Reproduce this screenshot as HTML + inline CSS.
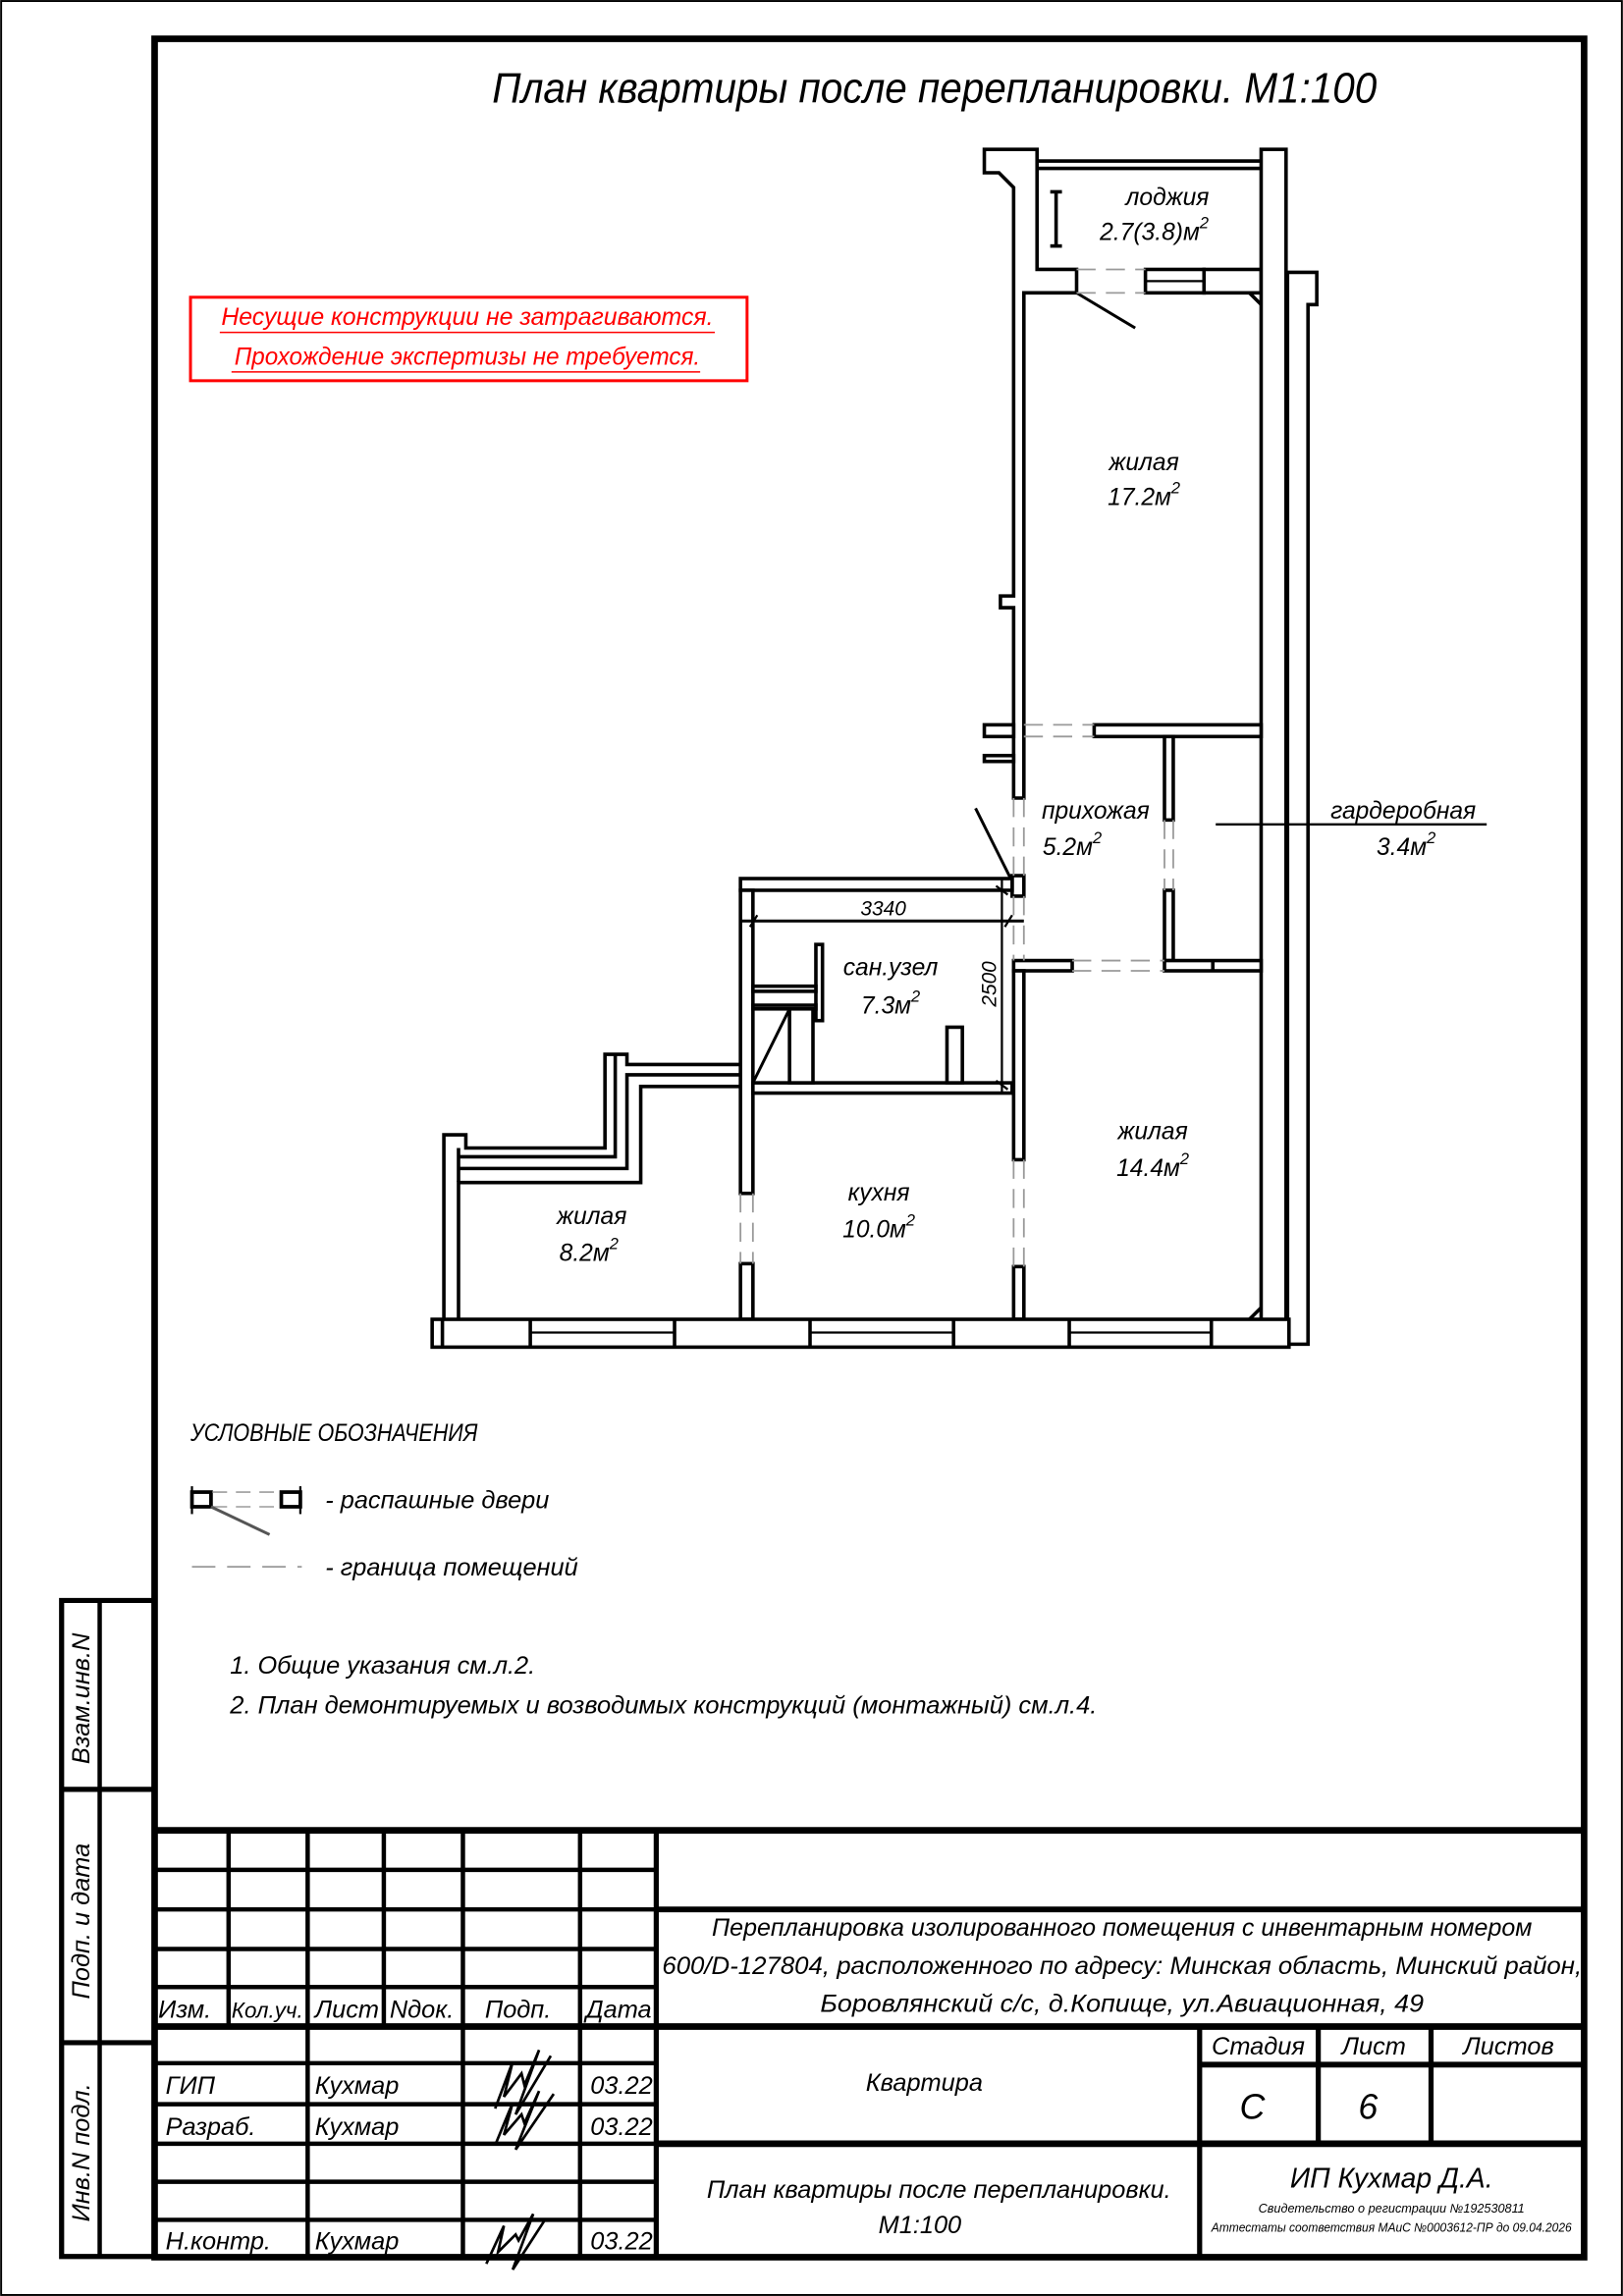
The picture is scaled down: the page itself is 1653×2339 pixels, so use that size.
<!DOCTYPE html>
<html><head><meta charset="utf-8"><style>
html,body{margin:0;padding:0;background:#fff}
svg{display:block}
text{font-family:"Liberation Sans Narrow","Liberation Sans",sans-serif;font-style:italic;fill:#000}
</style></head><body>
<svg width="1653" height="2339" viewBox="0 0 1108 1568" xmlns="http://www.w3.org/2000/svg">
<rect x="0.7" y="0.7" width="1106.6" height="1566.6" fill="none" stroke="#000" stroke-width="1.3"/>
<rect x="105.5" y="26.5" width="976" height="1515" fill="none" stroke="#000" stroke-width="4.5"/>

<!-- title -->
<text x="638" y="70" font-size="29" text-anchor="middle" textLength="604" lengthAdjust="spacingAndGlyphs">План квартиры после перепланировки. М1:100</text>

<!-- red box -->
<rect x="130" y="203" width="380" height="57" fill="none" stroke="#f00" stroke-width="2"/>
<text x="319" y="222" font-size="17" text-anchor="middle" style="fill:#f00" textLength="336" lengthAdjust="spacingAndGlyphs">Несущие конструкции не затрагиваются.</text>
<line x1="150" y1="227" x2="488" y2="227" stroke="#f00" stroke-width="1"/>
<text x="319" y="249" font-size="17" text-anchor="middle" style="fill:#f00" textLength="318" lengthAdjust="spacingAndGlyphs">Прохождение экспертизы не требуется.</text>
<line x1="158" y1="254" x2="478" y2="254" stroke="#f00" stroke-width="1"/>

<!-- PLAN -->
<g fill="#fff" stroke="#000" stroke-width="2.4" stroke-linejoin="miter">
<!-- left loggia pillar & living left wall -->
<polygon points="672,102 708,102 708,184 735,184 735,200 699,200 699,545 692,545 692,415 683,415 683,407 692,407 692,128 682,118 672,118"/>
<rect x="672" y="495" width="20" height="8"/>
<rect x="672" y="516" width="20" height="4"/>
<!-- loggia bottom wall right -->
<rect x="782" y="184" width="40" height="16"/>
<line x1="782" y1="192" x2="822" y2="192" stroke-width="1.5"/>
<rect x="822" y="184" width="39" height="16"/>
<!-- loggia top window -->
<line x1="708" y1="110" x2="861" y2="110"/>
<line x1="708" y1="115" x2="861" y2="115"/>
<!-- right walls -->
<rect x="861" y="102" width="17" height="816"/>
<polygon points="879,186 899,186 899,208 893,208 893,918 879,918"/>
<polyline points="853,200 861,208" fill="none"/>
<!-- living/hall wall -->
<rect x="747" y="495" width="114" height="8"/>
<!-- wardrobe wall -->
<rect x="795" y="503" width="6" height="57"/>
<rect x="795" y="608" width="6" height="48"/>
<!-- hall bottom walls -->
<rect x="692" y="656" width="40" height="7"/>
<rect x="795" y="656" width="66" height="7"/>
<line x1="828" y1="656" x2="828" y2="663"/>
<!-- kitchen right wall -->
<rect x="692" y="663" width="7" height="129"/>
<rect x="692" y="865" width="7" height="36"/>
<!-- door jamb -->
<rect x="691" y="598" width="8" height="14"/>
<!-- sanuzel top -->
<rect x="505.5" y="600" width="185.5" height="8"/>
<!-- kitchen left wall -->
<rect x="505.5" y="608" width="8.5" height="207"/>
<rect x="505.5" y="863" width="8.5" height="38"/>
<!-- sanuzel bottom -->
<rect x="514" y="739.5" width="177" height="7"/>
<!-- fixtures -->
<rect x="557" y="645" width="4.5" height="52"/>
<rect x="514" y="673.5" width="43" height="3.5"/>
<rect x="514" y="686.5" width="43" height="2.5"/>
<rect x="539" y="689" width="16" height="50.5"/>
<rect x="646.5" y="701.5" width="10.5" height="38"/>
<!-- bottom wall -->
<rect x="295" y="901" width="585" height="19"/>
</g>
<g fill="none" stroke="#000" stroke-width="2.4">
<!-- stepped walls -->
<polyline points="505.5,727 428,727 428,720 413,720 413,784 318,784 318,775 303,775 303,901"/>
<polyline points="505.5,734 428,734 428,798 313,798"/>
<polyline points="420,720 420,790 313,790"/>
<polyline points="505.5,742 437.4,742 437.4,807.6 313,807.6 313,901"/>
<line x1="313" y1="784" x2="313" y2="807"/>
<!-- window divisions -->
<line x1="302" y1="901" x2="302" y2="920"/>
<line x1="362" y1="901" x2="362" y2="920"/>
<line x1="460.5" y1="901" x2="460.5" y2="920"/>
<line x1="553" y1="901" x2="553" y2="920"/>
<line x1="651" y1="901" x2="651" y2="920"/>
<line x1="730" y1="901" x2="730" y2="920"/>
<line x1="827" y1="901" x2="827" y2="920"/>
<line x1="362" y1="910" x2="460.5" y2="910" stroke-width="1.5"/>
<line x1="553" y1="910" x2="651" y2="910" stroke-width="1.5"/>
<line x1="730" y1="910" x2="827" y2="910" stroke-width="1.5"/>
<polyline points="861,893 853,901"/>
<!-- diagonal in sanuzel -->
<line x1="539" y1="689" x2="514" y2="739.5" stroke-width="2"/>
<!-- door leaves -->
<line x1="735" y1="200" x2="775" y2="224" stroke-width="2"/>
<line x1="666" y1="552" x2="690" y2="600" stroke-width="2"/>
<!-- loggia I -->
<line x1="721" y1="131" x2="721" y2="168"/>
<line x1="717" y1="131" x2="725" y2="131"/>
<line x1="717" y1="168" x2="725" y2="168"/>
<!-- dimension lines -->
<line x1="505" y1="629" x2="699" y2="629" stroke-width="2"/>
<line x1="512" y1="633" x2="517" y2="625" stroke-width="1.5"/>
<line x1="686" y1="633" x2="691" y2="625" stroke-width="1.5"/>
<line x1="684" y1="600" x2="684" y2="746" stroke-width="1.5"/>
<line x1="680" y1="605" x2="688" y2="611" stroke-width="1.5"/>
<line x1="680" y1="738" x2="688" y2="744" stroke-width="1.5"/>
<!-- wardrobe pointer -->
<line x1="830" y1="563" x2="1015" y2="563" stroke-width="1.6"/>
</g>
<!-- dashed boundaries -->
<g stroke="#9a9a9a" stroke-width="1.2" stroke-dasharray="13 7" fill="none">
<line x1="735" y1="184" x2="782" y2="184"/><line x1="735" y1="200" x2="782" y2="200"/>
<line x1="699" y1="495" x2="747" y2="495"/><line x1="699" y1="503" x2="747" y2="503"/>
<line x1="692" y1="545" x2="692" y2="598"/><line x1="699" y1="545" x2="699" y2="598"/>
<line x1="692" y1="612" x2="692" y2="656"/><line x1="699" y1="612" x2="699" y2="656"/>
<line x1="795" y1="560" x2="795" y2="608"/><line x1="801" y1="560" x2="801" y2="608"/>
<line x1="732" y1="656" x2="795" y2="656"/><line x1="732" y1="663" x2="795" y2="663"/>
<line x1="692" y1="792" x2="692" y2="865"/><line x1="699" y1="792" x2="699" y2="865"/>
<line x1="505.5" y1="815" x2="505.5" y2="863"/><line x1="514" y1="815" x2="514" y2="863"/>
</g>

<!-- room labels -->
<g font-size="16.5" text-anchor="middle">
<text x="797" y="140">лоджия</text>
<text x="788" y="164">2.7(3.8)м<tspan font-size="11" dy="-8">2</tspan></text>
<text x="781" y="321">жилая</text>
<text x="781" y="345">17.2м<tspan font-size="11" dy="-8">2</tspan></text>
<text x="748" y="559">прихожая</text>
<text x="732" y="584">5.2м<tspan font-size="11" dy="-8">2</tspan></text>
<text x="958" y="559">гардеробная</text>
<text x="960" y="584">3.4м<tspan font-size="11" dy="-8">2</tspan></text>
<text x="608" y="666">сан.узел</text>
<text x="608" y="692">7.3м<tspan font-size="11" dy="-8">2</tspan></text>
<text x="600" y="820">кухня</text>
<text x="600" y="845">10.0м<tspan font-size="11" dy="-8">2</tspan></text>
<text x="787" y="778">жилая</text>
<text x="787" y="803">14.4м<tspan font-size="11" dy="-8">2</tspan></text>
<text x="404" y="836">жилая</text>
<text x="402" y="861">8.2м<tspan font-size="11" dy="-8">2</tspan></text>
<text x="603" y="625" font-size="14">3340</text>
<text transform="translate(680,672) rotate(-90)" font-size="14">2500</text>
</g>

<!-- legend -->
<text x="130" y="984" font-size="17" textLength="196" lengthAdjust="spacingAndGlyphs">УСЛОВНЫЕ ОБОЗНАЧЕНИЯ</text>
<g stroke="#000" fill="none">
<rect x="131" y="1019" width="13" height="10" stroke-width="2.5"/>
<rect x="192" y="1019" width="13" height="10" stroke-width="2.5"/>
<line x1="145" y1="1019" x2="192" y2="1019" stroke="#aaa" stroke-dasharray="10 6" stroke-width="1.2"/>
<line x1="145" y1="1029" x2="192" y2="1029" stroke="#aaa" stroke-dasharray="10 6" stroke-width="1.2"/>
<line x1="144" y1="1029" x2="184" y2="1048" stroke="#555" stroke-width="2"/>
<line x1="131" y1="1015" x2="131" y2="1034" stroke-width="1.5"/>
<line x1="205" y1="1015" x2="205" y2="1034" stroke-width="1.5"/>
<line x1="131" y1="1070" x2="206" y2="1070" stroke="#999" stroke-dasharray="16 8" stroke-width="1.2"/>
</g>
<text x="222" y="1030" font-size="17">- распашные двери</text>
<text x="222" y="1076" font-size="17">- граница помещений</text>

<!-- notes -->
<text x="157" y="1143" font-size="17">1. Общие указания см.л.2.</text>
<text x="157" y="1170" font-size="17" textLength="592" lengthAdjust="spacingAndGlyphs">2. План демонтируемых и возводимых конструкций (монтажный) см.л.4.</text>

<!-- left stamps -->
<g stroke="#000" fill="none">
<polyline points="104,1093 42,1093 42,1541 104,1541" stroke-width="3.5"/>
<line x1="68" y1="1093" x2="68" y2="1541" stroke-width="3"/>
<line x1="42" y1="1222" x2="104" y2="1222" stroke-width="3.5"/>
<line x1="42" y1="1395" x2="104" y2="1395" stroke-width="3.5"/>
</g>
<g font-size="17" text-anchor="middle">
<text transform="translate(61,1160) rotate(-90)">Взам.инв.N</text>
<text transform="translate(61,1312) rotate(-90)">Подп. и дата</text>
<text transform="translate(61,1470) rotate(-90)">Инв.N подл.</text>
</g>

<!-- title block -->
<g stroke="#000" fill="none">
<line x1="104" y1="1250" x2="1083" y2="1250" stroke-width="4.5"/>
<g stroke-width="3">
<line x1="104" y1="1277" x2="448" y2="1277"/>
<line x1="104" y1="1304" x2="448" y2="1304"/>
<line x1="104" y1="1331" x2="448" y2="1331"/>
<line x1="104" y1="1357" x2="448" y2="1357"/>
<line x1="104" y1="1409" x2="448" y2="1409"/>
<line x1="104" y1="1437" x2="448" y2="1437"/>
<line x1="104" y1="1464" x2="448" y2="1464"/>
<line x1="104" y1="1490" x2="448" y2="1490"/>
<line x1="104" y1="1516" x2="448" y2="1516"/>
<line x1="156" y1="1250" x2="156" y2="1385"/>
<line x1="262" y1="1250" x2="262" y2="1385"/>
<line x1="210" y1="1250" x2="210" y2="1541"/>
<line x1="316" y1="1250" x2="316" y2="1541"/>
<line x1="396" y1="1250" x2="396" y2="1541"/>
</g>
<line x1="104" y1="1384" x2="1083" y2="1384" stroke-width="4.5"/>
<line x1="448" y1="1250" x2="448" y2="1541" stroke-width="3.5"/>
<line x1="448" y1="1304" x2="1083" y2="1304" stroke-width="4"/>
<line x1="448" y1="1464" x2="1083" y2="1464" stroke-width="4.5"/>
<line x1="819" y1="1384" x2="819" y2="1541" stroke-width="3.5"/>
<line x1="900" y1="1384" x2="900" y2="1464" stroke-width="3.5"/>
<line x1="977" y1="1384" x2="977" y2="1464" stroke-width="3.5"/>
<line x1="819" y1="1410" x2="1083" y2="1410" stroke-width="4"/>
<!-- signatures -->
<g stroke-width="1.8">
<path d="M338,1440 L350,1408 L344,1432 L356,1416 L358,1424 L368,1400 L352,1444 L376,1404"/>
<path d="M338,1465 L350,1436 L344,1458 L356,1444 L358,1450 L368,1428 L352,1468 L378,1430"/>
<path d="M332,1546 L344,1520 L340,1538 L352,1526 L354,1530 L364,1512 L350,1550 L372,1516"/>
</g>
</g>
<g font-size="17">
<text x="108" y="1378">Изм.</text>
<text x="158" y="1378" font-size="15">Кол.уч.</text>
<text x="215" y="1378">Лист</text>
<text x="266" y="1378">Nдок.</text>
<text x="331" y="1378">Подп.</text>
<text x="400" y="1378">Дата</text>
<text x="113" y="1430">ГИП</text>
<text x="215" y="1430">Кухмар</text>
<text x="403" y="1430">03.22</text>
<text x="113" y="1458">Разраб.</text>
<text x="215" y="1458">Кухмар</text>
<text x="403" y="1458">03.22</text>
<text x="113" y="1536">Н.контр.</text>
<text x="215" y="1536">Кухмар</text>
<text x="403" y="1536">03.22</text>
</g>
<g text-anchor="middle" font-size="17">
<text x="766" y="1322" textLength="560" lengthAdjust="spacingAndGlyphs">Перепланировка изолированного помещения с инвентарным номером</text>
<text x="766" y="1348" textLength="628" lengthAdjust="spacingAndGlyphs">600/D-127804, расположенного по адресу: Минская область, Минский район,</text>
<text x="766" y="1374" textLength="412" lengthAdjust="spacingAndGlyphs">Боровлянский с/с, д.Копище, ул.Авиационная, 49</text>
<text x="631" y="1428">Квартира</text>
<text x="859" y="1403">Стадия</text>
<text x="938" y="1403">Лист</text>
<text x="1030" y="1403">Листов</text>
<text x="855" y="1447" font-size="24">С</text>
<text x="934" y="1447" font-size="24">6</text>
<text x="641" y="1501">План квартиры после перепланировки.</text>
<text x="628" y="1525">М1:100</text>
<text x="950" y="1494" font-size="19">ИП Кухмар Д.А.</text>
<text x="950" y="1511" font-size="8.5">Свидетельство о регистрации №192530811</text>
<text x="950" y="1524" font-size="8.5" textLength="246" lengthAdjust="spacingAndGlyphs">Аттестаты соответствия МАиС №0003612-ПР до 09.04.2026</text>
</g>
</svg>
</body></html>
